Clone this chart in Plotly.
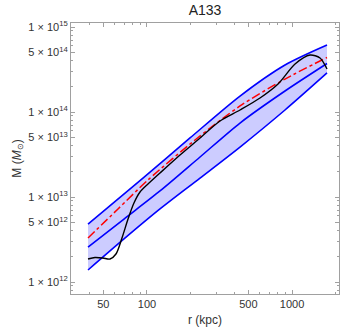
import plotly.graph_objects as go

# ---- data (r in kpc, M in solar masses) ----
r_upper = [39.2, 93.8, 198.0, 437.9, 894.5, 1743]
m_upper = [4.81e12, 1.67e13, 4.95e13, 1.54e14, 3.57e14, 6.14e14]

r_middle = [39.2, 69.4, 122.9, 232.1, 437.9, 894.5, 1743]
m_middle = [2.58e12, 5.51e12, 1.177e13, 2.955e13, 7.42e13, 1.766e14, 3.72e14]

r_lower = [39.2, 69.4, 122.9, 232.1, 437.9, 894.5, 1743]
m_lower = [1.384e12, 3.21e12, 7.23e12, 1.67e13, 3.87e13, 1.056e14, 2.88e14]

r_red = [39.2, 63.1, 101.6, 214.3, 437.9, 894.5, 1743]
m_red = [3.29e12, 7.23e12, 1.585e13, 4.68e13, 1.177e14, 2.44e14, 4.38e14]

r_black = [39.2, 43.8, 49.7, 55.6, 61.1, 67.2, 74.0, 81.3, 89.5, 101.6, 122.9,
           168.9, 232.1, 318.7, 437.9, 601.6, 800.8, 1049, 1331, 1560, 1743]
m_black = [1.865e12, 1.942e12, 1.916e12, 1.865e12, 2.135e12, 3.29e12, 5.51e12,
           8.5e12, 1.145e13, 1.422e13, 1.916e13, 3.12e13, 4.94e13, 7.84e13,
           1.056e14, 1.461e14, 2.135e14, 3.67e14, 4.685e14, 4.32e14, 3.205e14]

x_tickvals = [50, 100, 500, 1000]
x_ticktext = ["50", "100", "500", "1000"]
y_tickvals = [1e12, 5e12, 1e13, 5e13, 1e14, 5e14, 1e15]
y_ticktext = ["1 × 10<sup>12</sup>", "5 × 10<sup>12</sup>", "1 × 10<sup>13</sup>",
              "5 × 10<sup>13</sup>", "1 × 10<sup>14</sup>", "5 × 10<sup>14</sup>",
              "1 × 10<sup>15</sup>"]

x_minor = [30, 40, 60, 70, 80, 90, 200, 300, 400, 600, 700, 800, 900, 2000]
y_minor = []
for d in [1e11, 1e12, 1e13, 1e14]:
    for k in range(2, 10):
        if k != 5:
            y_minor.append(k * d)

BLUE = "#0000ff"
FILL = "rgba(0,0,255,0.2)"

fig = go.Figure()
fig.add_trace(go.Scatter(x=r_lower, y=m_lower, mode="lines",
                         line=dict(color=BLUE, width=1.6, shape="spline", smoothing=0.8),
                         showlegend=False))
fig.add_trace(go.Scatter(x=r_upper, y=m_upper, mode="lines", fill="tonexty",
                         fillcolor=FILL,
                         line=dict(color=BLUE, width=1.6, shape="spline", smoothing=0.8),
                         showlegend=False))
fig.add_trace(go.Scatter(x=r_middle, y=m_middle, mode="lines",
                         line=dict(color=BLUE, width=1.6, shape="spline", smoothing=0.8),
                         showlegend=False))
fig.add_trace(go.Scatter(x=r_red, y=m_red, mode="lines",
                         line=dict(color="#ff0000", width=1.5, dash="dashdot",
                                   shape="spline", smoothing=0.8),
                         showlegend=False))
fig.add_trace(go.Scatter(x=r_black, y=m_black, mode="lines",
                         line=dict(color="#000000", width=1.4, shape="spline", smoothing=0.8),
                         showlegend=False))

FRAME = "#a0a0a0"
FONT = "Liberation Sans, Arial, sans-serif"
axis_common = dict(
    type="log", showgrid=False, zeroline=False, showline=True, linecolor=FRAME,
    linewidth=1, mirror="allticks", ticks="inside", ticklen=4, tickcolor=FRAME,
    tickfont=dict(family=FONT, size=11, color="#333333"),
)

fig.update_xaxes(
    **axis_common, range=[1.476, 3.324], tickmode="array",
    tickvals=x_tickvals, ticktext=x_ticktext,
    minor=dict(tickvals=x_minor, ticks="inside", ticklen=2, tickcolor=FRAME),
    title=dict(text="r (kpc)", font=dict(family=FONT, size=12, color="#333333"),
               standoff=6),
)
fig.update_yaxes(
    **axis_common, range=[11.859, 15.047], tickmode="array",
    tickvals=y_tickvals, ticktext=y_ticktext,
    minor=dict(tickvals=y_minor, ticks="inside", ticklen=2, tickcolor=FRAME),
    title=dict(text="M (<i>M</i><sub>⊙</sub>)",
               font=dict(family=FONT, size=12, color="#333333"), standoff=4),
)

W, H = 347, 334
ML, MR, MT, MB = 71, 8, 23, 40
fig.update_layout(
    width=W, height=H,
    margin=dict(l=ML, r=MR, t=MT, b=MB),
    paper_bgcolor="white", plot_bgcolor="white",
    title=dict(text="A133", x=(ML + (W - MR)) / 2 / W, xanchor="center",
               y=1 - 10.5 / H, yanchor="middle",
               font=dict(family=FONT, size=14, color="#222222")),
)

fig.write_html("out.html",
               config={"displayModeBar": False},
               post_script="document.body.style.margin='0';"
                           "document.body.style.padding='0';")
